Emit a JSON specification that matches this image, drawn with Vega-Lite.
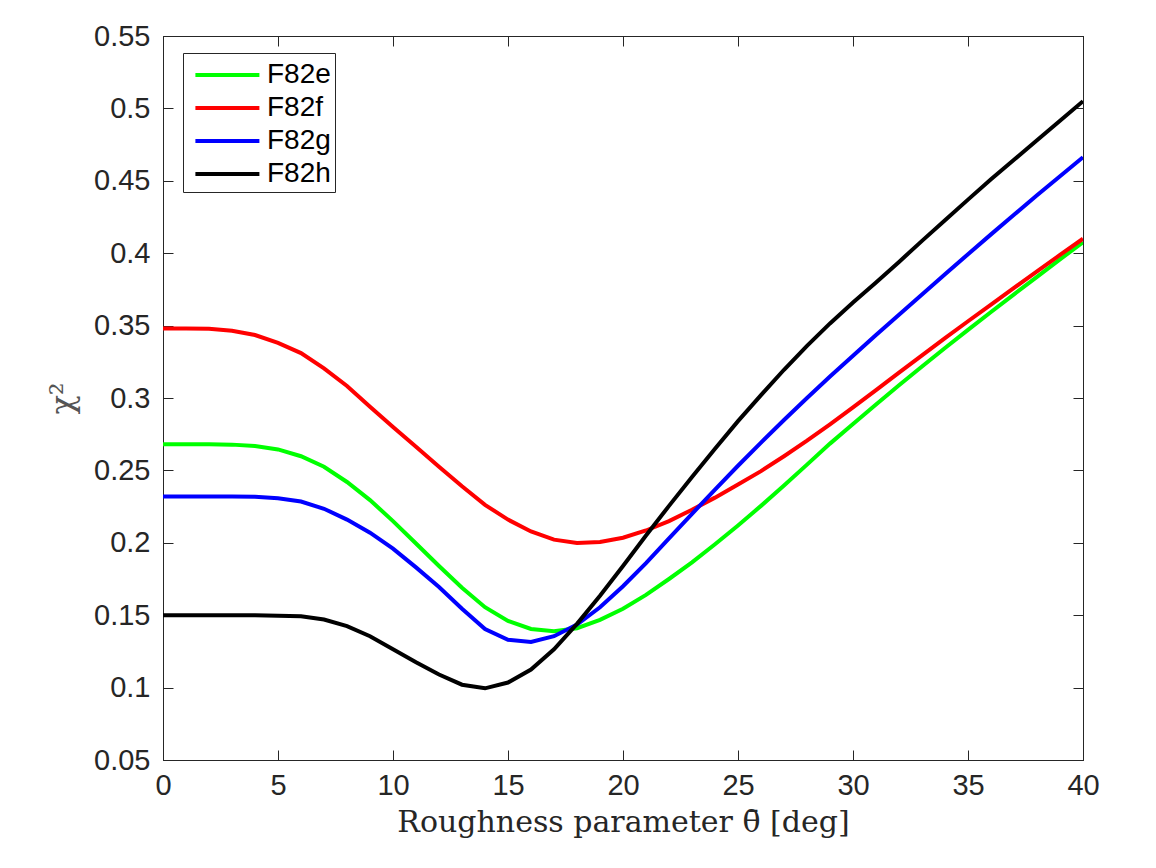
{
  "$schema": "https://vega.github.io/schema/vega-lite/v6.json",
  "description": "Chi-square vs roughness parameter for four samples.",
  "width": 920,
  "height": 724,
  "autosize": {"type": "none"},
  "padding": {"left": 163, "top": 36, "right": 73, "bottom": 108},
  "background": "white",
  "data": {
    "values": [
      {"d": 0, "s": "F82e", "v": 0.268}, {"d": 1, "s": "F82e", "v": 0.268}, {"d": 2, "s": "F82e", "v": 0.268}, {"d": 3, "s": "F82e", "v": 0.2678},
      {"d": 4, "s": "F82e", "v": 0.2668}, {"d": 5, "s": "F82e", "v": 0.2645}, {"d": 6, "s": "F82e", "v": 0.2598}, {"d": 7, "s": "F82e", "v": 0.2525},
      {"d": 8, "s": "F82e", "v": 0.242}, {"d": 9, "s": "F82e", "v": 0.2295}, {"d": 10, "s": "F82e", "v": 0.215}, {"d": 11, "s": "F82e", "v": 0.1995},
      {"d": 12, "s": "F82e", "v": 0.184}, {"d": 13, "s": "F82e", "v": 0.169}, {"d": 14, "s": "F82e", "v": 0.1555}, {"d": 15, "s": "F82e", "v": 0.146},
      {"d": 16, "s": "F82e", "v": 0.1405}, {"d": 17, "s": "F82e", "v": 0.139}, {"d": 18, "s": "F82e", "v": 0.141}, {"d": 19, "s": "F82e", "v": 0.1468},
      {"d": 20, "s": "F82e", "v": 0.1545}, {"d": 21, "s": "F82e", "v": 0.164}, {"d": 22, "s": "F82e", "v": 0.175}, {"d": 23, "s": "F82e", "v": 0.1865},
      {"d": 24, "s": "F82e", "v": 0.199}, {"d": 25, "s": "F82e", "v": 0.212}, {"d": 26, "s": "F82e", "v": 0.2255}, {"d": 27, "s": "F82e", "v": 0.2395},
      {"d": 28, "s": "F82e", "v": 0.254}, {"d": 29, "s": "F82e", "v": 0.2685}, {"d": 30, "s": "F82e", "v": 0.282}, {"d": 31, "s": "F82e", "v": 0.2955},
      {"d": 32, "s": "F82e", "v": 0.3088}, {"d": 33, "s": "F82e", "v": 0.3218}, {"d": 34, "s": "F82e", "v": 0.3345}, {"d": 35, "s": "F82e", "v": 0.347},
      {"d": 36, "s": "F82e", "v": 0.3594}, {"d": 37, "s": "F82e", "v": 0.3716}, {"d": 38, "s": "F82e", "v": 0.3837}, {"d": 39, "s": "F82e", "v": 0.3957},
      {"d": 40, "s": "F82e", "v": 0.4076},

      {"d": 0, "s": "F82f", "v": 0.348}, {"d": 1, "s": "F82f", "v": 0.348}, {"d": 2, "s": "F82f", "v": 0.3478}, {"d": 3, "s": "F82f", "v": 0.3465},
      {"d": 4, "s": "F82f", "v": 0.3435}, {"d": 5, "s": "F82f", "v": 0.338}, {"d": 6, "s": "F82f", "v": 0.331}, {"d": 7, "s": "F82f", "v": 0.3205},
      {"d": 8, "s": "F82f", "v": 0.3083}, {"d": 9, "s": "F82f", "v": 0.294}, {"d": 10, "s": "F82f", "v": 0.28}, {"d": 11, "s": "F82f", "v": 0.2664},
      {"d": 12, "s": "F82f", "v": 0.2526}, {"d": 13, "s": "F82f", "v": 0.239}, {"d": 14, "s": "F82f", "v": 0.2262}, {"d": 15, "s": "F82f", "v": 0.216},
      {"d": 16, "s": "F82f", "v": 0.2078}, {"d": 17, "s": "F82f", "v": 0.2022}, {"d": 18, "s": "F82f", "v": 0.1998}, {"d": 19, "s": "F82f", "v": 0.2006},
      {"d": 20, "s": "F82f", "v": 0.2035}, {"d": 21, "s": "F82f", "v": 0.2085}, {"d": 22, "s": "F82f", "v": 0.215}, {"d": 23, "s": "F82f", "v": 0.2228},
      {"d": 24, "s": "F82f", "v": 0.2312}, {"d": 25, "s": "F82f", "v": 0.2402}, {"d": 26, "s": "F82f", "v": 0.2495}, {"d": 27, "s": "F82f", "v": 0.2598},
      {"d": 28, "s": "F82f", "v": 0.2705}, {"d": 29, "s": "F82f", "v": 0.2818}, {"d": 30, "s": "F82f", "v": 0.2935}, {"d": 31, "s": "F82f", "v": 0.3055},
      {"d": 32, "s": "F82f", "v": 0.3175}, {"d": 33, "s": "F82f", "v": 0.3295}, {"d": 34, "s": "F82f", "v": 0.3413}, {"d": 35, "s": "F82f", "v": 0.353},
      {"d": 36, "s": "F82f", "v": 0.3645}, {"d": 37, "s": "F82f", "v": 0.376}, {"d": 38, "s": "F82f", "v": 0.3875}, {"d": 39, "s": "F82f", "v": 0.3988},
      {"d": 40, "s": "F82f", "v": 0.41},

      {"d": 0, "s": "F82g", "v": 0.232}, {"d": 1, "s": "F82g", "v": 0.232}, {"d": 2, "s": "F82g", "v": 0.232}, {"d": 3, "s": "F82g", "v": 0.232},
      {"d": 4, "s": "F82g", "v": 0.2318}, {"d": 5, "s": "F82g", "v": 0.2308}, {"d": 6, "s": "F82g", "v": 0.2285}, {"d": 7, "s": "F82g", "v": 0.2235},
      {"d": 8, "s": "F82g", "v": 0.216}, {"d": 9, "s": "F82g", "v": 0.207}, {"d": 10, "s": "F82g", "v": 0.196}, {"d": 11, "s": "F82g", "v": 0.183},
      {"d": 12, "s": "F82g", "v": 0.1695}, {"d": 13, "s": "F82g", "v": 0.1545}, {"d": 14, "s": "F82g", "v": 0.1405}, {"d": 15, "s": "F82g", "v": 0.133},
      {"d": 16, "s": "F82g", "v": 0.1315}, {"d": 17, "s": "F82g", "v": 0.1355}, {"d": 18, "s": "F82g", "v": 0.1435}, {"d": 19, "s": "F82g", "v": 0.1555},
      {"d": 20, "s": "F82g", "v": 0.17}, {"d": 21, "s": "F82g", "v": 0.186}, {"d": 22, "s": "F82g", "v": 0.203}, {"d": 23, "s": "F82g", "v": 0.22},
      {"d": 24, "s": "F82g", "v": 0.2368}, {"d": 25, "s": "F82g", "v": 0.2532}, {"d": 26, "s": "F82g", "v": 0.2692}, {"d": 27, "s": "F82g", "v": 0.2848},
      {"d": 28, "s": "F82g", "v": 0.3}, {"d": 29, "s": "F82g", "v": 0.3148}, {"d": 30, "s": "F82g", "v": 0.3292}, {"d": 31, "s": "F82g", "v": 0.3435},
      {"d": 32, "s": "F82g", "v": 0.3575}, {"d": 33, "s": "F82g", "v": 0.3715}, {"d": 34, "s": "F82g", "v": 0.3855}, {"d": 35, "s": "F82g", "v": 0.3993},
      {"d": 36, "s": "F82g", "v": 0.413}, {"d": 37, "s": "F82g", "v": 0.4265}, {"d": 38, "s": "F82g", "v": 0.44}, {"d": 39, "s": "F82g", "v": 0.4532},
      {"d": 40, "s": "F82g", "v": 0.4663},

      {"d": 0, "s": "F82h", "v": 0.15}, {"d": 1, "s": "F82h", "v": 0.15}, {"d": 2, "s": "F82h", "v": 0.15}, {"d": 3, "s": "F82h", "v": 0.15},
      {"d": 4, "s": "F82h", "v": 0.1499}, {"d": 5, "s": "F82h", "v": 0.1497}, {"d": 6, "s": "F82h", "v": 0.1492}, {"d": 7, "s": "F82h", "v": 0.147},
      {"d": 8, "s": "F82h", "v": 0.1425}, {"d": 9, "s": "F82h", "v": 0.1355}, {"d": 10, "s": "F82h", "v": 0.1265}, {"d": 11, "s": "F82h", "v": 0.1175},
      {"d": 12, "s": "F82h", "v": 0.109}, {"d": 13, "s": "F82h", "v": 0.102}, {"d": 14, "s": "F82h", "v": 0.0995}, {"d": 15, "s": "F82h", "v": 0.1035},
      {"d": 16, "s": "F82h", "v": 0.1125}, {"d": 17, "s": "F82h", "v": 0.1265}, {"d": 18, "s": "F82h", "v": 0.144}, {"d": 19, "s": "F82h", "v": 0.1635},
      {"d": 20, "s": "F82h", "v": 0.184}, {"d": 21, "s": "F82h", "v": 0.205}, {"d": 22, "s": "F82h", "v": 0.2255}, {"d": 23, "s": "F82h", "v": 0.2455},
      {"d": 24, "s": "F82h", "v": 0.265}, {"d": 25, "s": "F82h", "v": 0.284}, {"d": 26, "s": "F82h", "v": 0.302}, {"d": 27, "s": "F82h", "v": 0.3195},
      {"d": 28, "s": "F82h", "v": 0.336}, {"d": 29, "s": "F82h", "v": 0.3515}, {"d": 30, "s": "F82h", "v": 0.366}, {"d": 31, "s": "F82h", "v": 0.3798},
      {"d": 32, "s": "F82h", "v": 0.394}, {"d": 33, "s": "F82h", "v": 0.4085}, {"d": 34, "s": "F82h", "v": 0.4228}, {"d": 35, "s": "F82h", "v": 0.437},
      {"d": 36, "s": "F82h", "v": 0.451}, {"d": 37, "s": "F82h", "v": 0.4645}, {"d": 38, "s": "F82h", "v": 0.478}, {"d": 39, "s": "F82h", "v": 0.4915},
      {"d": 40, "s": "F82h", "v": 0.505}
    ]
  },
  "layer": [
    {
      "mark": {"type": "line", "strokeWidth": 4, "clip": true},
      "encoding": {
        "x": {
          "field": "d", "type": "quantitative",
          "scale": {"domain": [0, 40], "nice": false, "zero": false},
          "axis": {
            "orient": "bottom",
            "values": [0, 5, 10, 15, 20, 25, 30, 35, 40],
            "labelFlush": false,
            "labelFontSize": 29,
            "title": "Roughness parameter \u03b8\u0304 [deg]",
            "titleFont": "DejaVu Serif",
            "titleFontSize": 30,
            "titleFontWeight": "normal",
            "titleColor": "#262626",
            "titlePadding": 7,
            "labelPadding": 21
          }
        },
        "y": {
          "field": "v", "type": "quantitative",
          "scale": {"domain": [0.05, 0.55], "nice": false, "zero": false},
          "axis": {
            "orient": "left",
            "values": [0.05, 0.1, 0.15, 0.2, 0.25, 0.3, 0.35, 0.4, 0.45, 0.5, 0.55],
            "format": "~g",
            "labelFontSize": 29,
            "title": "\u03c7\u00b2",
            "titleFont": "DejaVu Serif",
            "titleFontSize": 32,
            "titleFontWeight": "normal",
            "titleColor": "#555555",
            "titlePadding": 14,
            "labelPadding": 23
          }
        },
        "color": {
          "field": "s", "type": "nominal",
          "scale": {"domain": ["F82e", "F82f", "F82g", "F82h"], "range": ["#00ff00", "#ff0000", "#0000ff", "#000000"]},
          "legend": {
            "orient": "none",
            "legendX": 20,
            "legendY": 17,
            "title": null,
            "symbolType": "M-0.6,0H3.4",
            "symbolSize": 1024,
            "symbolStrokeWidth": 4,
            "labelFont": "Liberation Sans",
            "labelFontSize": 28,
            "labelColor": "#000000",
            "labelOffset": 44,
            "rowPadding": 1,
            "padding": 4,
            "strokeColor": "#262626",
            "fillColor": "#ffffff"
          }
        }
      }
    },
    {
      "mark": {"type": "line", "opacity": 0},
      "encoding": {
        "x": {
          "field": "d", "type": "quantitative",
          "axis": {"orient": "top", "values": [0, 5, 10, 15, 20, 25, 30, 35, 40], "labels": false, "title": null}
        },
        "y": {
          "field": "v", "type": "quantitative",
          "axis": {"orient": "right", "values": [0.05, 0.1, 0.15, 0.2, 0.25, 0.3, 0.35, 0.4, 0.45, 0.5, 0.55], "labels": false, "title": null}
        },
        "detail": {"field": "s", "type": "nominal"}
      }
    }
  ],
  "resolve": {"axis": {"x": "independent", "y": "independent"}},
  "config": {
    "view": {"stroke": "#262626", "strokeWidth": 1},
    "axis": {
      "grid": false,
      "domainColor": "#262626",
      "domainWidth": 1,
      "tickColor": "#262626",
      "tickSize": -10,
      "tickWidth": 1,
      "labelFont": "Liberation Sans",
      "labelFontSize": 27,
      "labelColor": "#262626"
    }
  }
}
